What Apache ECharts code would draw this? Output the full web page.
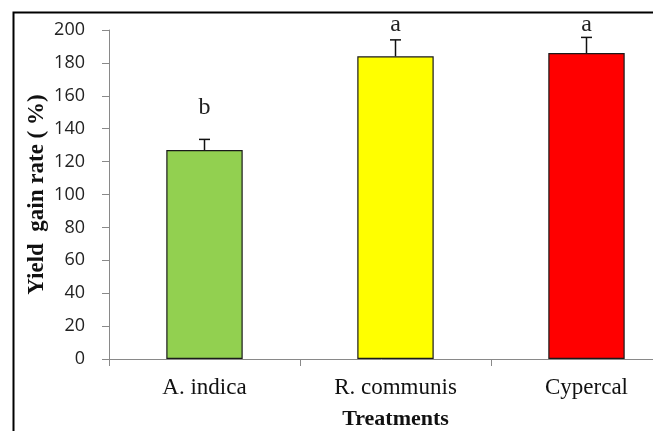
<!DOCTYPE html>
<html>
<head>
<meta charset="utf-8">
<script src="https://cdn.jsdelivr.net/npm/echarts@6/dist/echarts.min.js"></script>
<style>
  html, body { margin: 0; padding: 0; background: #fff; }
  #chart { width: 653px; height: 431px; }
</style>
</head>
<body>
<div id="chart"></div>
<script>
// Treatments and their mean yield gain (%), with standard error
const treatments = ['A. indica', 'R. communis', 'Cypercal'];
const yieldGain = [127, 184, 186];
const stdError = [6.5, 10, 9.5];
const barColors = ['#92D050', '#FFFF00', '#FF0000'];
// Significance letters and the value at which each one sits
const groupLetters = ['b', 'a', 'a'];
const letterAt = [153, 203.5, 203.5];
const yTicks = { min: 0, max: 200, step: 20 };

const serif = '"Liberation Serif", "Times New Roman", serif';
const sans = '"Open Sans", "Liberation Sans", sans-serif';

const chart = echarts.init(document.getElementById('chart'), null, { renderer: 'canvas' });

chart.setOption({
  animation: false,
  backgroundColor: '#ffffff',
  graphic: [{
    type: 'rect',
    left: 11, top: 10,
    shape: { width: 700, height: 500 },
    style: { fill: 'none', stroke: '#000', lineWidth: 2 },
    silent: true
  }],
  // the plot runs past the right edge of the page
  grid: { left: 109, top: 30, width: 573, bottom: 72, outerBoundsMode: 'none', containLabel: false },
  xAxis: {
    type: 'category',
    data: treatments,
    axisLine: { lineStyle: { color: '#898989', width: 1 } },
    axisTick: { show: true, length: 7, lineStyle: { color: '#898989' } },
    axisLabel: { margin: 17, fontFamily: serif, fontSize: 23, color: '#111' },
    name: 'Treatments',
    nameLocation: 'middle',
    nameGap: 49,
    nameMoveOverlap: false,
    nameTextStyle: { fontFamily: serif, fontSize: 22, fontWeight: 'bold', color: '#111' }
  },
  yAxis: {
    type: 'value',
    min: yTicks.min, max: yTicks.max, interval: yTicks.step,
    splitLine: { show: false },
    axisLine: { show: true, lineStyle: { color: '#898989', width: 1 } },
    axisTick: { show: true, length: 7, lineStyle: { color: '#898989' } },
    axisLabel: { margin: 24, fontFamily: sans, fontSize: 18, color: '#222' },
    name: 'Yield  gain rate ( %)',
    nameLocation: 'middle',
    nameGap: 60,
    nameRotate: 90,
    nameMoveOverlap: false,
    nameTextStyle: { fontFamily: serif, fontSize: 23, fontWeight: 'bold', color: '#111' }
  },
  series: [
    {
      type: 'bar',
      barWidth: '40%',
      data: yieldGain.map((v, i) => ({
        value: v,
        itemStyle: { color: barColors[i], borderColor: '#1a1a1a', borderWidth: 1.2 }
      }))
    },
    {
      // upper error bars with caps
      type: 'custom',
      data: yieldGain.map((v, i) => [i, v, v + stdError[i]]),
      renderItem: function (params, api) {
        const base = api.coord([api.value(0), api.value(1)]);
        const top = api.coord([api.value(0), api.value(2)]);
        const cap = 5.5;
        const style = { stroke: '#111', lineWidth: 1.5 };
        return {
          type: 'group',
          children: [
            { type: 'line', shape: { x1: base[0], y1: base[1], x2: top[0], y2: top[1] }, style: style },
            { type: 'line', shape: { x1: top[0] - cap, y1: top[1], x2: top[0] + cap, y2: top[1] }, style: style }
          ]
        };
      },
      z: 3
    },
    {
      // significance letters
      type: 'custom',
      clip: false,
      data: letterAt.map((v, i) => [i, v]),
      renderItem: function (params, api) {
        const p = api.coord([api.value(0), api.value(1)]);
        return {
          type: 'text',
          x: p[0], y: p[1],
          style: {
            text: groupLetters[params.dataIndex],
            fontFamily: serif, fontSize: 24, fill: '#222',
            align: 'center', verticalAlign: 'middle'
          }
        };
      },
      z: 4
    }
  ]
});
</script>
</body>
</html>
